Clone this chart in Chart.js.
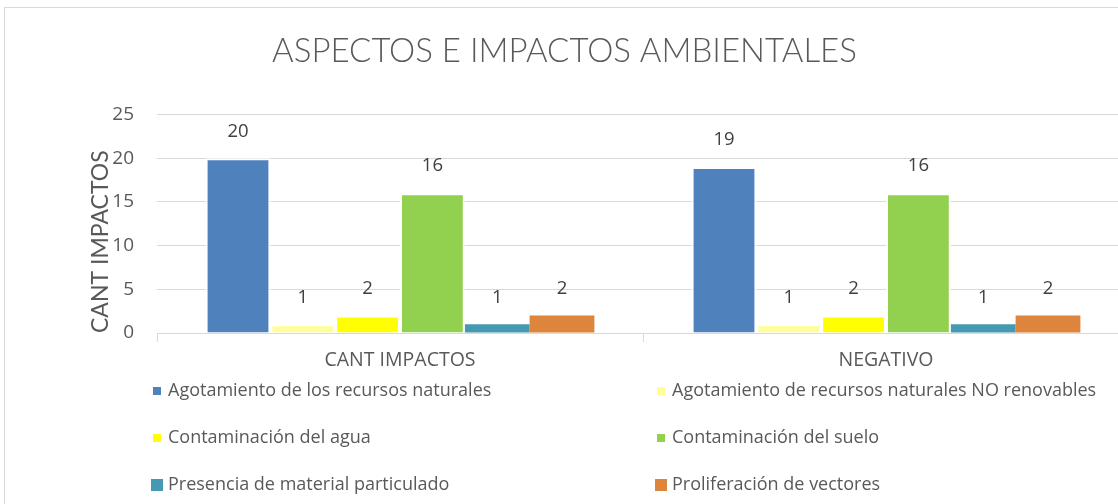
<!DOCTYPE html>
<html lang="es">
<head>
  <meta charset="UTF-8">
  <title>Aspectos e impactos ambientales</title>
  <style>
  html, body {
    margin: 0;
    padding: 0;
    background: #ffffff;
    overflow: hidden;
  }
  #frame {
    position: absolute;
    left: 4px;
    top: 7px;
    width: 1200px;
    height: 600px;
    border: 1px solid #d9d9d9;
  }
  #barChart {
    position: absolute;
    left: 0;
    top: 0;
  }
  </style>
  <script src="https://cdn.jsdelivr.net/npm/chart.js"></script>
</head>
<body>
  <div id="frame"></div>
  <canvas id="barChart" width="1129" height="504"></canvas>

  <script>
    // data
    var categories = ['CANT IMPACTOS', 'NEGATIVO'];
    var seriesNames = [
      'Agotamiento de los recursos naturales',
      'Agotamiento de recursos naturales NO renovables',
      'Contaminación del agua',
      'Contaminación del suelo',
      'Presencia de material particulado',
      'Proliferación de vectores'
    ];
    var agotamiento = [20, 19];
    var agotamientoNoRenov = [1, 1];
    var contAgua = [2, 2];
    var contSuelo = [16, 16];
    var materialParticulado = [1, 1];
    var vectores = [2, 2];
    var yTicks = [0, 5, 10, 15, 20, 25];

    var colors = ['#4f81bd', '#ffff99', '#ffff00', '#92d050', '#4599b2', '#dd853c'];
    var allValues = [agotamiento, agotamientoNoRenov, contAgua, contSuelo, materialParticulado, vectores];
    var fontFamily = '"Open Sans", "Noto Sans", sans-serif';
    var titleFamily = 'Lato, "Open Sans", sans-serif';

    var datasets = allValues.map(function (vals, i) {
      return {
        label: seriesNames[i],
        data: vals,
        backgroundColor: colors[i],
        borderColor: '#ffffff',
        borderWidth: i < 4 ? 2 : 0,
        barPercentage: 1.0,
        categoryPercentage: 0.8
      };
    });

    // value labels above each bar
    var valueLabels = {
      id: 'valueLabels',
      afterDatasetsDraw: function (chart) {
        var ctx = chart.ctx;
        ctx.save();
        ctx.font = '18.5px ' + fontFamily;
        ctx.fillStyle = '#404040';
        ctx.textAlign = 'center';
        ctx.textBaseline = 'middle';
        chart.data.datasets.forEach(function (ds, i) {
          chart.getDatasetMeta(i).data.forEach(function (bar, j) {
            ctx.fillText(ds.data[j], bar.x, bar.y - 27);
          });
        });
        ctx.restore();
      }
    };

    // two column legend below the axis
    var gridLegend = {
      id: 'gridLegend',
      afterDraw: function (chart) {
        var ctx = chart.ctx;
        ctx.save();
        ctx.font = '18px ' + fontFamily;
        ctx.textBaseline = 'middle';
        chart.data.datasets.forEach(function (ds, i) {
          var col = i % 2, row = Math.floor(i / 2);
          var cx = col === 0 ? 157 : 661;
          var cy = 391 + row * 47;
          var box = i < 4 ? 8 : 12;
          ctx.fillStyle = ds.backgroundColor;
          ctx.fillRect(cx - box / 2, cy - box / 2, box, box);
          ctx.fillStyle = '#595959';
          ctx.fillText(ds.label, cx + 11, cy);
        });
        ctx.restore();
      }
    };

    var barChart = new Chart('barChart', {
      type: 'bar',
      data: {
        labels: categories,
        datasets: datasets
      },
      plugins: [valueLabels, gridLegend],
      options: {
        responsive: false,
        animation: false,
        layout: { padding: 0 },
        plugins: {
          legend: { display: false },
          tooltip: { enabled: false },
          title: {
            display: true,
            text: 'ASPECTOS E IMPACTOS AMBIENTALES',
            color: '#595959',
            font: { family: titleFamily, size: 33, weight: '300' },
            padding: { top: 32, bottom: 43 }
          }
        },
        scales: {
          x: {
            grid: {
              drawOnChartArea: false,
              drawTicks: true,
              tickLength: 9,
              color: '#d9d9d9'
            },
            border: { color: '#d9d9d9' },
            ticks: {
              color: '#595959',
              font: { family: fontFamily, size: 19.5 },
              padding: 7
            },
            afterFit: function (s) { s.height = 171; }
          },
          y: {
            min: 0,
            max: 25,
            afterBuildTicks: function (s) {
              s.ticks = yTicks.map(function (v) { return { value: v }; });
            },
            grid: { color: '#d9d9d9', drawTicks: false },
            border: { display: false },
            ticks: {
              color: '#595959',
              font: { family: fontFamily, size: 19 },
              padding: 23
            },
            title: {
              display: true,
              text: 'CANT IMPACTOS',
              align: 'start',
              color: '#595959',
              font: { family: titleFamily, size: 23 },
              padding: { top: 87, bottom: 0 }
            },
            afterFit: function (s) { s.width = 157; }
          }
        }
      }
    });
  </script>
</body>
</html>
